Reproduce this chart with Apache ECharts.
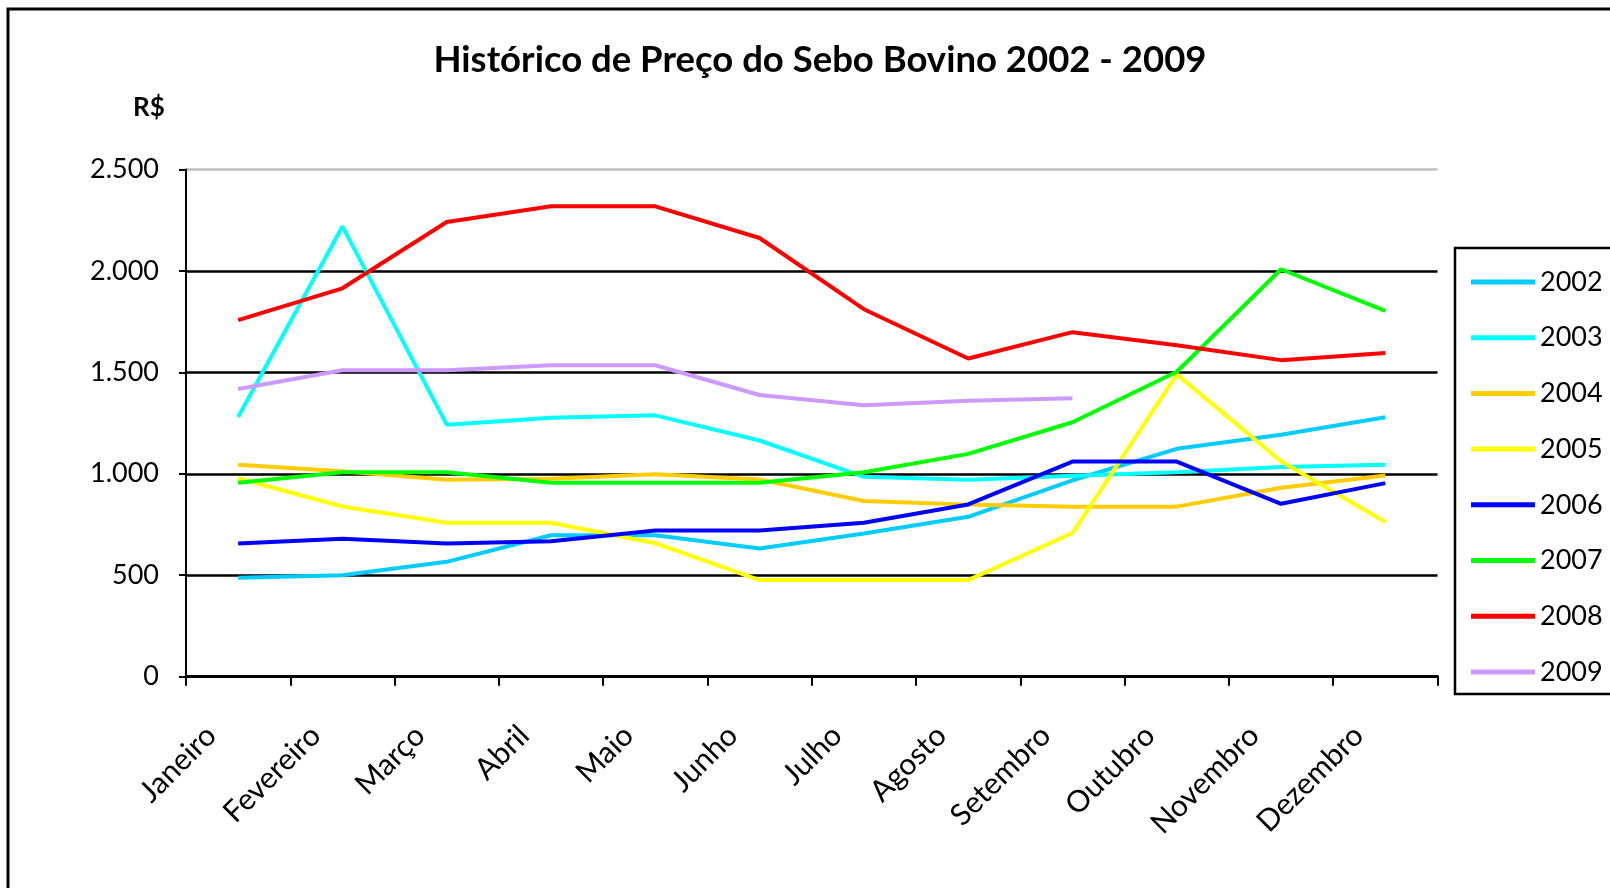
<!DOCTYPE html>
<html lang="pt">
<head>
    <meta charset="utf-8">
    <title>Sebo Bovino</title>
    <script src="https://cdn.jsdelivr.net/npm/echarts@6/dist/echarts.min.js"></script>
    <style>
        html, body { margin: 0; padding: 0; background: #fff; }
        #chart { width: 1610px; height: 888px; }
    </style>
</head>
<body>
<div id="chart"></div>
<script>
    // dados
    var meses = ['Janeiro', 'Fevereiro', 'Março', 'Abril', 'Maio', 'Junho', 'Julho', 'Agosto', 'Setembro', 'Outubro', 'Novembro', 'Dezembro'];
    var anos = ['2002', '2003', '2004', '2005', '2006', '2007', '2008', '2009'];
    var v2002 = [488, 500, 566, 697, 697, 632, 706, 788, 968, 1123, 1192, 1279];
    var v2003 = [1280, 2219, 1242, 1276, 1288, 1164, 985, 970, 990, 1008, 1033, 1044];
    var v2004 = [1044, 1012, 970, 975, 998, 972, 866, 848, 838, 838, 931, 992];
    var v2005 = [978, 839, 759, 759, 658, 476, 476, 476, 708, 1490, 1062, 762];
    var v2006 = [656, 680, 656, 668, 720, 720, 759, 849, 1060, 1060, 852, 954];
    var v2007 = [956, 1008, 1008, 956, 956, 956, 1008, 1098, 1254, 1503, 2008, 1803];
    var v2008 = [1757, 1914, 2241, 2318, 2318, 2162, 1811, 1568, 1698, 1633, 1560, 1595];
    var v2009 = [1418, 1510, 1510, 1535, 1535, 1388, 1338, 1360, 1372, null, null, null];
    var yTicks = [0, 500, 1000, 1500, 2000, 2500];

    var valores = [v2002, v2003, v2004, v2005, v2006, v2007, v2008, v2009];
    var cores = ['#00CCFF', '#00FFFF', '#FFCC00', '#FFFF00', '#0000FF', '#00FF00', '#FF0000', '#CC99FF'];
    var fonte = 'Lato, "Noto Sans", sans-serif';

    var series = [];
    for (var i = 0; i < anos.length; i++) {
        series.push({
            name: anos[i],
            type: 'line',
            data: valores[i],
            showSymbol: false,
            symbol: 'none',
            lineStyle: { color: cores[i], width: 4 },
            itemStyle: { color: cores[i] },
            connectNulls: false,
            z: 2 + i
        });
    }

    var chart = echarts.init(document.getElementById('chart'));
    var option = {
        backgroundColor: '#fff',
        animation: false,
        title: [{
            text: 'Histórico de Preço do Sebo Bovino 2002 - 2009',
            left: 815,
            top: 37,
            textAlign: 'center',
            textStyle: { fontFamily: fonte, fontWeight: 'bold', fontSize: 36.5, color: '#000' }
        }, {
            text: 'R$',
            left: 128,
            top: 90,
            textStyle: { fontFamily: fonte, fontWeight: 'bold', fontSize: 26, color: '#000' }
        }],
        legend: {
            orient: 'vertical',
            left: 1466,
            top: 262,
            icon: 'rect',
            itemWidth: 64,
            itemHeight: 5,
            itemGap: 25.7,
            data: anos,
            textStyle: { fontFamily: fonte, fontSize: 27, color: '#000', lineHeight: 30 }
        },
        grid: { left: 186, right: 172.5, top: 169.4, bottom: 211.3 },
        xAxis: {
            type: 'category',
            data: meses,
            boundaryGap: true,
            axisLine: { lineStyle: { color: '#000', width: 3 } },
            axisTick: { show: true, length: 9, lineStyle: { color: '#000', width: 2 } },
            axisLabel: {
                interval: 0, rotate: 45, margin: 27,
                padding: [0, 38, 0, 0],
                fontFamily: fonte, fontSize: 30, color: '#000'
            },
            splitLine: { show: false }
        },
        yAxis: {
            type: 'value',
            min: yTicks[0],
            max: yTicks[yTicks.length - 1],
            interval: 500,
            axisLine: { show: true, lineStyle: { color: '#000', width: 2 } },
            axisTick: { show: true, length: 7, lineStyle: { color: '#000', width: 2 } },
            axisLabel: {
                margin: 27,
                fontFamily: fonte, fontSize: 27, color: '#000',
                formatter: function (v) { return v.toLocaleString('de-DE'); }
            },
            splitLine: { show: true, lineStyle: { color: ['#000', '#000', '#000', '#000', '#000', '#c0c0c0'], width: 2.5 } }
        },
        graphic: [{
            type: 'rect',
            shape: { x: 8, y: 9, width: 1640, height: 920 },
            style: { fill: null, stroke: '#000', lineWidth: 3 },
            z: 100
        }, {
            type: 'rect',
            shape: { x: 1455, y: 248, width: 200, height: 446 },
            style: { fill: null, stroke: '#000', lineWidth: 2.5 },
            z: 100
        }],
        series: series
    };
    chart.setOption(option);
    window.onresize = chart.resize;
</script>
</body>
</html>
